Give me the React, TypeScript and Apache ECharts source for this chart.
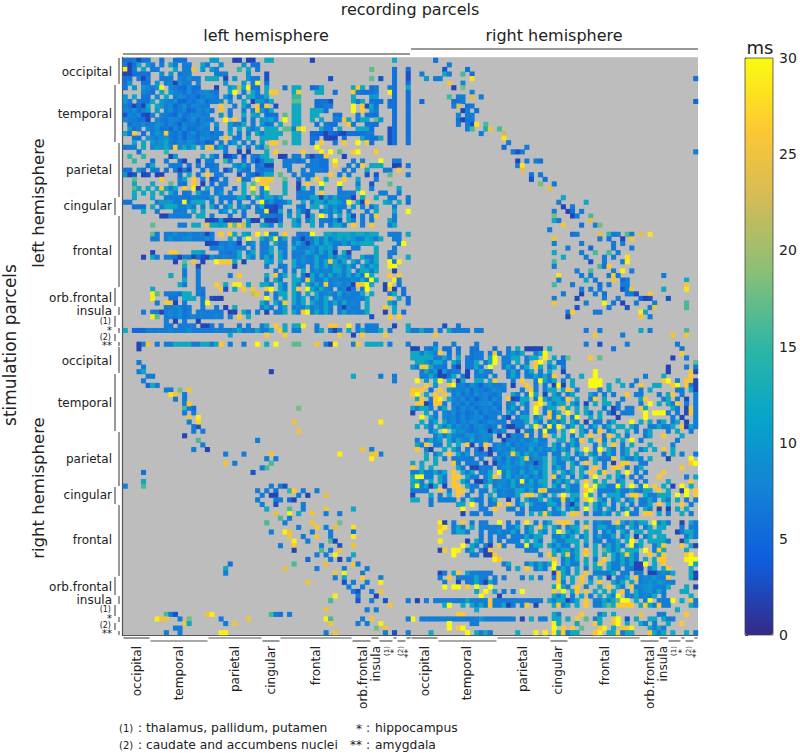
import React, { useEffect, useRef } from "react";
import * as echarts from "echarts";

// Each row: "<31 left-part cells> <32 right-part cells>". "." = no value, other chars = ms in base 31.
const leftLeftRows = [
"667266..6..666.....aa...22.22.. cc........2.................c...",
"726c.a7.7.c7.77..c7..9....a.66. ................................",
"t27.c.77...c.77p.a.a7....f.c.7. .......................h....6..6",
"226666..9.a.677.....777....9... 3...........................6..3",
"66.727..777.87977.ccc.2.a..a77. 3.............3........h.3..6..3",
"6a..66.a.782977.8.....a...a.7t. 6...........................6..6",
"6.a.a879u.8765966...2..acmcu66. c...6.cc..56c......cqc.67..76..c",
"....876.c.a8769678976..cu.7.c7. cqq...cq...cc..6...q76667..t6..6",
"a.c.66.8.c.7986757887.a6.7.cc77 c.....ff...........c...aa...6..6",
"a7.766c.a8795576896778.9..c.2aa 6c....hh...6663....c7c.666.66..6",
"76262c.ca7857968877..q..7.c7.q6 q.3...cc...6677....u.q3c6..66..6",
"87968a.a.79678568796.p.7..7.7qa 6c....cc..ccc6.....u.q.a7...6..6",
"3878328.87659678877..a.7..c.ca. 666.h.cc..cc...66...7.666...6..6",
"877662.8768875796877..t.q.7.7.a ac7.u.cc..c.c..77pc.7cc.ha..6..6",
".687977986875877689.a..a77c.7.a 67.c..cc...6.766..q7..666...6..6",
".a67.87967586966787.7..a.c.a7a ccc.hh7qt...c77.c...ccc6...36..6",
"c6q.6.7a8q768579678677.c.7.7.c7 cccc..cc..55526532666677...36..6",
"..66.a879a76858769877.p.77.c..c ccc...cc..66.222.6...c766c.36..6",
"..c.c.a89c7687986745.7.7a.7.7.a .qq.h.cc..6.q..6.q..u.q6...36..6",
"677.c.8a9c8q8c8c.9pp7c7..a.7.a7 h..........u....................",
"...6.....f............7..2.2... c.q.....q...t.u.h..qu...q.......",
".f..f.....2a.....c.a6.236.3.76c c..22.77.7266q...2..............",
"..f...6..7..62..3.77..f7..6.737 cc..77767.7766.u...7.7...u..77..",
".....6c...777.6.7.667...a7c7.67 22..77...77766.q..7.7q.ccc..22.7",
"66.a6.77.6.7273..6.77.37.a76.76 77...7..7.7776...7.7..c...77.q..",
"a23.23.22...6.c.6.q.77...3.7637 cc.h..7.777...q.7.7...3.3..h...7",
"..h.....q...7c.q.7.36.7..q67.tq qq..h..7.7.q.c...q..c...7.......",
"..c...c...h.76.q.2.6.77...c.h.q q...c..2.q..u...u...7..3...h....",
"..hc.c.cqc7c.q.t2.c.77..6.c.t.7 u...c..2c.7.c...7...c..7.....c..",
"..c.c.c.c.c7.67.c77.7a.7..c.h.7 c...c..7777.q...7777.u...77..7..",
"..c...c..7777667777a.7777cc6.c7 cc7c...777cc2c7c7772.c..c..77..7",
"66.....7aaa77u7ccc.7.7.7.7..7.u 6a667c..c.7cc7cca7u.c2q...ca.c.6",
"..666.c.7ccc77a7.7.c6.7c.7c7.7c 3326...76.cc.c7a77.a.7.6c...7...",
"....c..7...777.c.c...7a.a.7..77 t22c.7.c63..7a7c7.7...7.c...c..u",
"........2277777.cc.7...6..6...7 7766.a.c.2c.u.7.c.c3.7.7q...7...",
"..................223a2222.a22. 2226..c7.7c.776a3.c7.7.7...c7...",
"......h.....77.cc.pccacqhqma..c a7.c..ca..c.7.7cc7.q.7.q...7c...",
"............................... ................................",
"......h7.77977877727.q.qc.ca.t. t77.q..777u..ccacccaccacc..777.c",
"......77.79778977797...c.7.u..c 7ct7c.77277c7c7acaca77ca7c..77...",
"..................23377872.79.7 7.c77.7c727c7ca77a7caccc.....7u..",
"...................77978777.8.7 7c.77.c777a7cac7...77...c...7....",
"......2...qq...cca...7767c.7c.7 7c.c7.777ca7c7c2.c2.....c..77...",
"....2.c7.7762772632a77877c.c7.7 c7.c7.77977c77c7ca7..c77c..7...c",
"...........2.h.p.2..uqqqc.2.... ca.c..c7977c7cqc7c.c7.c7c..u7t..",
".............c..2.......2...... 7..77.c77.7c7c7ca7c7.c7ca..tu...",
".............7..7.............. ..7.7.7.c.79787cc7c.7cc7c...2...",
"..........c..7..7......7.q..... c.q7c.c.72c7c7c7a7c7c7uc...q.q..",
".............c..7.............. 7.c7..cc7qc77c7877797c7uc...t7..",
"............c7..7...q.c.tt.c..c c7.c7.c7.c7c7q789782qquc..2t.6..",
"......c.........77...q3.c.q.p.. qu.c7.cq.uc7c87.7827.7u...2q2.6.",
"......th.7776cc.76..........mp. 7.7cc.c7.c.c7897c7877c.c...7c.6.",
"......t...66.ccc.7.322......... u.7.c.c7c.7c7c.7977787c....q.c.6",
".......7.qq2.7...7u...........c 7.c7q.c7c.c87c7c7c787.c....c7..6",
".........778867..7..7.2.c.....7 c7.7c.787c797c7.72877.c...q.c...",
"....7.772787967.777777.22.c7.7. 2.77c.c7qu7c7c7.7c7877c...2.c.6.",
"......th.7879678777787.7.q.c... .......................3...q.q..",
".........7.2.7..2.............. ................................",
".........77.7777.227.7...7.7..7 c.q.c.cct..7..qq..t.7.777...2..c",
"c.55577777877797777787778c787c7 7c.qc.77...7c.727.c.7c777c.7...c",
".......................c....... q...q...........q..2.q....q.....",
"............................... ................................",
"...27p.7.77cccc77cc7cq.7..7..u. c.u...hh...p.72t...7q.cccc.7...7",
];

const rightRightRows = [
"22.76a.66.6..66...6..7.c.2222.c .............6..............6...",
"cc7ca7q.6.7..677.7p7.7a7c..7cu. ............................q...",
"ccccc77c7.c.7677.cu.77cc.7cc.t. c.6h....q.h...............2..7..",
".cca7cc7.c7.77c.7cu.77.c.7.qu.c .66............................h",
"a7qqc776.62.77c7.u..7c7.7c.qc.7 c.7......................2...7.7",
"..7c7a2a677.2.7c77...7c7.7c.7.c ..2......u...............2....q2",
"..77c7226c.72.777.7..7c7.77c7c7 q..7..c..u..........7...c.....q.",
".u.a.cu.c.2c..cc.cq...7.q..7uc7 c.7.c...uuu...c...7.....qu.7.qq2",
"...q.a..qu78697589778.2..q.7.7. 2u2.c...uuu.c..c.7.q..cc..qu.q72",
"qpq.6.q.a787968767987...7.q7.7c c.cq.7....7.c......7.c.....77.c2",
"qu.c.q.p.79686978768..c7.7tc.2. c7.7c...c7.7.7..q.77...7.cq.7..7",
".cq.7qt.c87968578697.q23cc.7tc7 cc7q.c..7q.c...7...cq...7c.7.2.7",
".qq26qq7.78696788967.7a.c7.qt.c 7cc.c7.2.c.cc.7....7.u.c.c7q.7.7",
"c7cc7.7c.86978678796.7c7.7.u.7c c.qc.c.c...7.27.77.qc.....c7.2q7",
"2..c.7.8796867968778.c7.77.u.7q 7c.t.c.c7.c.72.777..u.uuu7.7.2q7",
"..u.c7.878696789677.72.7cc.7c.q 7qc.7u..c.c...2.....u.....7.2..7",
"..c.7c.c7968798679877.777c.c7.7 c7c.c7.2.77.7c...u.c.c.7c.7c.2.7",
".c.c7.c7c7978689767.72277.ct.7u 7u.7c.c.7c.7c.cc.c7..77c77c.q2c7",
"....7c.t.c89767982979..2.77.7u7 7.c.u.c7.7q.7c..c.7.7c...7.c..7.",
".....7c7c8779a7899.2.2877q7.7q. c.c.7.c.q..7q.c.7...7c..q...c...",
".7.7c7a.c7c87c7897..2787978c77. .cc.c7q.c.q7.c.c.u.7.......7....",
".c7q.77.c.c.q2.7q.797a6878a978. c7.7c7...7.c.q.7.c...c....7.....",
".q.72..c.c7.7.72.27987c787c7a78 c7c7.c.u.7u.c7.7c..7c.c.q.c.....",
"...c.7c.q.c7a.7772.789qc7c8a77. 77.c.7c.c7.7c7.7c.c.....7.c.7..7",
"...c.c.7.77777.7..796a78cq798c. c7cc7.77.c777q.c77c7.c...2....u.",
"c.c..c...q7.777.2.287a79c7827c. c77.c7.q.c.7.2.qq..77.........qu",
"q.c.c.....c7.22777.79a8797a78c. 7c7.c.c7.q.7.qq.7.7c........q...",
"77c77c7c.q.c7c.77c.u7c87c79c7c. c.c7c.c.q.cq..c.u.7.7...q.......",
"cuu77.c7.qq.c77.7cq.7c798a797c. q7c.7.c7.u..c.c7.7.7...q.....7.c",
"cc7.c.c7.q.c7.227c7897c7u7c7cc. 7c7c.c.q.c.c..7c..7.7....c....q.",
"cu7c2c.2.qq.c77.c.7987c789a79c. c7.c77.u.ucc77uc.u.7u.q.c.2.u.c.",
"7777..q.7.qq.7.77.c7877cc7c7qq7 777c77.qu.7777c77c77cc.q.c..2u.q",
"2...c.7.c.q.7..7.c.7877c.qq.c7. c.u.cc.uc.7.ccc7.qq.c77ccc.u.u.q",
"cc..7.7777.7.c77.7c..2.7.c77c.c 77q7c7.qu.c7.7c.7c.77c7.c7.c.7.7",
"....7.....cc.u.7.77q.q.7c.c777c c7.72c.c.c7c.7.c.7.77c.q.c..q.7.",
"...........u...77.q..77.7.7777. 7c.7c7.u.c7.c7.7c.7.c7.2.2.c.c..",
"...........2.77.77.....77.c.cqc 77c.qp.7.77c7.c.u77.qq.c.7..c.7.",
"............................... ................................",
"......t2.7.q.7.77..u.7.7.t.7.7c .qqq.7.c.7977.qc7c7cc.u7c7..2.c7",
"......qt.7c7.c.77777.77c.7c.qc. c7.7cc.q.7cc77c7.c7.7c.cc...7.77",
"......t..7cc7..7.77977c7.7c.c7. cu.c7c.c.7.7c7.c7.cc.ccc...27cc7",
"...............7.7.77.777c7cc.. 77c7c.7c.7c77c.7c.2.7c.cc....7c7",
"......t.....2.c7.7.7.777.c.c7.. c77ccc.c.77.77c.cu.c.cccc7..2c..",
"...........u.c7.72.q7..77u7cc.c 7c77.c.7.c.7c7c7.u7c..7cq...q.c2",
"......2q.ut.7c.72q.......777... c7cc7c.q.c.hc7c.ccc.u.7qc....c..",
".........u...77.22q.........7.q c.cq7c.q.c.c.c7cqc7..q.cq....qt.",
"..................tq........... q.7c7c.c.7.q.c7c7c7.c.cqq....tuu",
"....................7c...7c7c7c u.7c77.c.cq.c77c7c22u.c.q.....uc",
".....................7.c.q.7c7. u7c7.c.7.cc.c77.7722.7c.cq....c.",
"......27.cq.c77777............. 2qc7.c.p.7777c.77.77.22797c...c2",
"......7.q.7777c77.7.7...7.c.7.. 7qc.c.q.7.c.2.77c.q798a87q....c2",
".......7..2.77c72c7............ .q7.c.p.c.q..c7c.c.7898a977.....",
".......u.uu.q.u..u............. cuc7.q.7..c.q.c7.q789a877c...c.2",
"..............c.u.c.7.7.u...... q.u.cq.p.c.c.c.q7.c79a7c7...cc..",
"...............u...2........... c7c.7.c.7.c.c7u.77c787c.7.....c.",
".2.7.7777777c7777q77777777777.c 7cc27c.q.77c7chuu.c.7u.777u.c.q7",
".......cu..c.c7c7q77c27.7q.2... cq7c.c.q.77chcqqqq.cqc7q77....c7",
"..............c................ ...........................c.....",
"..........qq................... c7....q...7c.c.....p...77....q...",
"u.7777777777777a7777777.2.c.77. cc.c.q.h.7c..qu.3.c..cc.c77.....",
"........u....77................ tc...c...qc..pu.c..c7.7..c..q...q",
"........u.qu................... u.q.q.h...qt.c.pqt...c7c7........",
"....c.......u.c7c7.....c...t.t. tcq7cc...qt.ccq7cc...qc7c.c..c.7",
];

// [row, column, ms] inside the left-stimulation / right-recording block
const leftRightCells = [
[0,5,6],[1,8,7],[2,7,3],[2,12,6],[3,2,7],[3,7,12],[3,8,7],[3,11,16],[3,13,6],[4,3,10],[4,5,7],[4,6,7],[4,13,28],[5,8,25],[5,11,8],[6,9,2],[6,11,18],[7,13,7],[8,8,16],[9,2,5],
[8,10,7],[8,11,7],[8,13,24],[8,15,7],[9,9,6],[9,10,6],[9,11,7],[10,10,24],[10,13,7],[10,12,6],[11,11,2],[11,12,7],[11,14,6],[12,12,7],[12,13,7],[13,10,6],[13,11,2],[13,13,7],
[10,9,7],[12,10,8],[13,12,6],[14,10,7],[14,13,3],[15,12,7],[15,13,16],[14,12,7],[14,14,28],[14,16,16],[15,16,13],[15,17,25],[15,19,16],[16,15,7],[16,20,22],[17,20,28],[18,21,7],[19,20,5],[19,25,7],[20,22,7],[20,23,3],[20,24,7],[22,23,2],[22,27,7],
[22,28,6],[22,25,7],[23,23,7],[23,24,28],[24,24,24],[25,26,6],[25,28,7],[26,26,3],[26,29,6],[27,28,18],[28,30,24],[27,31,7],[4,62,6],[9,62,5],[20,62,7],
[31,32,7],[30,33,12],[32,33,2],[32,35,7],[31,38,12],[33,31,7],[33,34,2],[33,35,6],[33,37,7],[34,31,18],[34,35,2],[34,36,7],[34,39,16],[35,31,12],[35,32,7],[35,39,24],[36,33,25],
[36,40,7],[36,37,6],[36,41,18],[37,30,7],[38,35,6],[38,36,7],[38,41,24],[38,43,15],[38,44,7],[38,45,7],[38,47,16],[38,48,7],[38,50,24],[38,52,28],[39,31,25],[39,41,7],[39,43,6],
[39,46,2],[39,48,26],[40,31,7],[40,37,7],[40,44,7],[41,39,5],[41,44,7],[41,48,7],[42,31,12],[42,37,7],[42,43,16],[42,45,7],[43,38,7],[43,42,7],[43,44,7],[43,47,28],[44,31,16],
[44,39,3],[44,46,7],[44,47,29],[45,31,7],[45,41,16],[45,42,6],[45,43,26],[46,44,7],[46,39,16],[46,46,29],[47,32,28],[47,39,7],[47,43,7],[47,44,26],[47,45,7],[47,55,7],[48,32,7],
[48,40,7],[48,44,25],[48,46,5],[48,47,7],[48,60,12],[49,31,16],[49,35,7],[49,41,6],[49,46,7],[49,47,7],[49,60,25],[50,41,7],[50,46,3],[50,47,7],[50,48,25],[50,55,12],[50,60,28],
[51,33,7],[51,37,2],[51,42,6],[51,47,7],[51,48,7],[51,49,3],[51,52,26],[52,31,7],[52,36,2],[52,42,7],[52,50,5],[52,51,2],[52,52,3],[52,56,3],[53,31,25],[53,38,7],[53,42,29],[53,49,7],
[53,53,7],[53,60,16],[54,36,3],[54,43,7],[54,52,7],[54,53,25],[54,60,16],[55,34,7],[55,35,26],[55,40,7],[55,41,7],[55,50,29],[55,51,12],[56,34,2],[56,50,25],[56,52,7],
[46,36,7],[47,37,7],[48,38,12],[49,43,7],[50,37,7],[50,39,7],[51,40,7],[52,45,7],[53,46,2],[54,47,3],[53,44,6],[46,48,7],[44,42,7],[42,40,16],[40,46,7],[41,34,7],[43,33,12],
[58,7,3],[58,10,7],[59,0,7],[59,1,7],[59,2,12],[59,3,7],[59,4,7],[59,6,7],[59,8,12],[59,9,7],[59,10,7],[59,11,7],[59,12,7],[59,14,7],[59,15,7],[59,38,7],[59,41,7],[59,50,12],[59,52,7],
[59,60,16],[60,5,25],[60,40,25],[60,46,7],[60,57,25],[60,60,25],[62,5,7],[62,9,7],[62,14,7],[62,38,7],[62,41,3],[62,47,7],[62,58,7],
];

// [row, column, ms] inside the right-stimulation / left-recording block
const rightLeftCells = [
[0,3,2],[3,3,7],[4,4,7],[5,3,7],[5,4,12],[5,32,2],[6,5,7],[6,6,7],[7,4,7],[8,5,5],[8,7,7],[9,9,7],[9,10,7],[8,6,12],[10,11,25],[10,10,28],[9,12,18],[9,14,25],[10,13,7],[11,11,7],[11,13,7],[12,13,7],
[13,13,16],[13,14,7],[12,14,26],[13,15,5],[14,13,7],[14,15,7],[15,14,25],[15,16,29],[16,14,7],[17,16,3],[16,16,27],[17,15,7],[18,15,7],[19,13,2],[18,17,7],[20,16,16],[21,17,7],[22,15,7],[22,18,2],
[6,50,12],[6,56,7],[16,56,29],[7,59,7],[6,59,7],[13,38,18],[16,37,25],[18,38,25],[20,29,7],[23,26,7],[23,22,7],[23,32,25],[24,31,7],[24,33,7],[25,32,16],[25,22,25],[25,24,7],[26,31,16],
[26,30,7],[27,28,3],[22,54,7],[23,54,25],[23,56,7],[22,52,25],[23,55,25],[24,54,29],[23,47,29],[27,4,6],[29,4,12],[31,31,7],[30,4,16],[30,0,7],[30,32,7],[30,34,7],[31,33,6],[31,29,7],[32,30,7],
[32,32,2],[32,33,2],[30,35,3],[33,36,6],[33,29,7],[32,38,7],[31,36,15],[31,37,26],[31,39,7],[32,40,2],[31,42,7],[32,44,24],[33,37,2],[33,33,7],[33,34,7],[34,30,7],[34,33,3],[34,39,7],[35,31,12],
[35,36,16],[35,39,7],[35,44,25],[35,50,12],[36,33,24],[36,36,29],[36,38,12],[36,41,25],[36,44,7],[36,47,7],[37,34,16],[37,36,7],[38,31,16],[38,35,7],[38,41,25],[38,47,18],[39,38,7],[39,42,26],[39,44,7],[39,46,24],
[39,50,28],[40,32,7],[40,35,29],[40,36,25],[40,41,7],[40,45,7],[40,50,6],[41,36,25],[41,39,7],[41,42,25],[41,45,7],[41,50,29],[42,37,29],[42,40,7],[42,45,16],[42,46,2],[43,34,7],[43,37,26],[43,43,7],[43,47,3],
[43,50,25],[44,37,2],[44,43,16],[44,45,7],[44,47,25],[45,44,7],[45,42,7],[45,46,29],[45,50,12],[46,40,5],[46,45,7],[46,47,2],[46,49,7],[47,23,6],[47,37,16],[47,44,24],[47,50,25],[47,51,7],[48,22,12],[48,35,24],[48,42,7],
[48,48,7],[48,53,7],[49,22,7],[49,46,25],[49,48,29],[49,52,7],[50,46,7],[50,48,12],[50,52,26],[50,56,7],[51,40,25],[51,48,3],[51,50,7],[51,53,7],[51,56,29],[52,49,7],[52,52,7],[53,50,7],[53,54,7],[53,51,3],
[53,56,25],[54,51,7],[54,55,2],[54,46,29],[55,51,3],[55,45,16],[55,54,7],[55,57,3],[55,62,7],[56,58,25],[57,53,7],[57,55,7],[57,44,25],[58,9,16],[58,10,7],[58,11,3],[58,18,25],[58,19,29],[58,32,16],[58,33,7],[58,34,6],[58,36,7],
[59,7,29],[59,8,25],[59,9,25],[59,12,7],[59,14,18],[59,21,7],[59,27,25],[59,44,29],[59,45,16],[59,52,7],[59,54,25],[60,56,29],[59,62,7],[60,13,25],[60,14,12],[60,22,7],[60,24,25],[60,45,25],[60,53,7],[60,51,7],
[61,11,7],[61,12,7],[61,55,18],[61,57,25],[62,9,7],[62,12,7],[62,21,29],[62,22,29],[62,44,7],[62,46,25],[62,57,7],[62,59,3],[62,62,7],
];

const regionNames = ["occipital", "temporal", "parietal", "cingular", "frontal", "orb.frontal", "insula", "(1)", "*", "(2)", "**"];
const colorStops = ["#352A87", "#0F5CDD", "#1481D6", "#06A4CA", "#2EB7A4", "#87BF77", "#D1BB59", "#FEC832", "#F9FB0E"];
const colorTicks = [0, 30];
const PARCELS = 126;
const HALF = 63;
const parcelIndex = Array.from({ length: PARCELS }, (_, i) => String(i));

function buildCells() {
  const cells: number[][] = [];
  const addRows = (rows: string[], offset: number) => {
    rows.forEach((line, r) => {
      const [a, b] = line.split(" ");
      const first = a.padEnd(31, ".").slice(0, 31);
      const second = (b || "").padEnd(32, ".").slice(0, 32);
      const full = first + second;
      for (let c = 0; c < HALF; c++) {
        if (full[c] !== ".") cells.push([offset + c, offset + r, parseInt(full[c], 31)]);
      }
    });
  };
  addRows(leftLeftRows, 0);
  addRows(rightRightRows, HALF);
  leftRightCells.forEach(([r, c, v]) => cells.push([HALF + c, r, v]));
  rightLeftCells.forEach(([r, c, v]) => cells.push([c, HALF + r, v]));
  return cells;
}

const FONT = "'DejaVu Sans'";
const txt = (x: number, y: number, text: string, fontSize: number, align = "center", rotation = 0, vAlign = "middle") => ({
  type: "text", x, y, rotation, silent: true,
  style: { text, fontSize, fontFamily: FONT, fill: "#222", align, verticalAlign: vAlign },
});
const seg = (x1: number, y1: number, x2: number, y2: number, stroke = "#555", lineWidth = 1.2) => ({
  type: "line", silent: true, shape: { x1, y1, x2, y2 }, style: { stroke, lineWidth },
});

function buildGraphics() {
  const out: any[] = [];
  out.push(txt(410, 9, "recording parcels", 16));
  out.push(txt(266, 35, "left hemisphere", 16));
  out.push(txt(554, 35, "right hemisphere", 16));
  out.push(seg(123, 54, 410, 54, "#333", 1));
  out.push(seg(411, 49, 698, 49, "#333", 1));
  out.push(txt(10, 345, "stimulation parcels", 17, "center", Math.PI / 2));
  out.push(txt(38, 203, "left hemisphere", 16.5, "center", Math.PI / 2));
  out.push(txt(38, 488, "right hemisphere", 16.5, "center", Math.PI / 2));

  // frame
  out.push(seg(122.5, 57, 122.5, 636, "#555", 1.2));
  out.push(seg(122, 635.5, 698, 635.5, "#555", 1.2));
  out.push(seg(123, 57.5, 698, 57.5, "#ccc", 1));

  // left labels and brackets
  const yEdges = [58, 85, 143, 198, 216, 288, 307, 316, 328, 334, 342, 347];
  const yCenters = [72, 114, 170, 206, 251, 298, 311, 321, 330, 337, 345];
  const ySizes = [12, 12, 12, 12, 12, 12, 12, 8, 10, 8, 10];
  const xText = [112, 112, 112, 112, 112, 112, 112, 111, 112, 111, 112];
  for (let hemi = 0; hemi < 2; hemi++) {
    const dy = hemi * 289;
    regionNames.forEach((name, i) => {
      const bx = i % 2 === 0 ? 119 : 115;
      out.push(seg(bx, yEdges[i] + dy, bx, yEdges[i + 1] - 1 + dy, "#555", 1.2));
      out.push(txt(xText[i], yCenters[i] + dy - (hemi && i > 6 ? 1 : 0), name, ySizes[i], "right"));
    });
  }

  // bottom labels and brackets
  const xEdges = [123, 150, 208, 262, 280, 352, 371, 379, 393, 397, 406, 411, 438, 497, 550, 568, 640, 659, 668, 681, 685, 694, 698];
  const xCenters = [137, 179, 235, 271, 316, 363, 376, 387, 394, 401, 408, 425, 467, 523, 558, 605, 650, 663, 674, 682, 689, 696];
  for (let i = 0; i < 22; i++) {
    const name = regionNames[i % 11];
    const base = i % 2 === 0 ? 638 : 641;
    const by = i >= 11 ? (i % 2 === 0 ? 641 : 638) : base;
    out.push(seg(xEdges[i] + 0.5, by, xEdges[i + 1] - 0.5, by, "#555", 1.2));
    const c = i % 11;
    const top = c === 8 || c === 10 ? 649 : 646;
    out.push(txt(xCenters[i], top, name, c > 6 ? (c % 2 === 0 ? 9 : 7) : ySizes[c], "right", Math.PI / 2));
  }

  // key
  out.push(txt(119, 728, "(1)", 10, "left"));
  out.push(txt(138, 728, ":", 12.3, "left"));
  out.push(txt(146, 728, "thalamus, pallidum, putamen", 12.3, "left"));
  out.push(txt(119, 745, "(2)", 10, "left"));
  out.push(txt(138, 745, ":", 12.3, "left"));
  out.push(txt(146, 745, "caudate and accumbens nuclei", 12.3, "left"));
  out.push(txt(362, 729, "*", 12, "right"));
  out.push(txt(366, 728, ":", 12.3, "left"));
  out.push(txt(375, 728, "hippocampus", 12.3, "left"));
  out.push(txt(362, 745, "**", 12, "right"));
  out.push(txt(366, 745, ":", 12.3, "left"));
  out.push(txt(375, 745, "amygdala", 12.3, "left"));

  // colour bar
  out.push(txt(760, 47, "ms", 18));
  out.push({ type: "rect", silent: true, shape: { x: 745, y: 58, width: 28, height: 577 }, style: { fill: "none", stroke: "#444", lineWidth: 0.8 }, z: 100 });
  return out;
}

export default function App() {
  const ref = useRef<HTMLDivElement>(null);
  useEffect(() => {
    const chart = echarts.init(ref.current!, undefined, { renderer: "svg", width: 800, height: 753 });
    chart.setOption({
      animation: false,
      backgroundColor: "#ffffff",
      grid: [
        { left: 123, top: 58, width: 575, height: 577, show: true, backgroundColor: "#bdbdbd", borderWidth: 0 },
        { left: 745, top: 58, width: 28, height: 577, show: false },
      ],
      xAxis: [
        { type: "category", data: parcelIndex, gridIndex: 0, show: false },
        { type: "value", gridIndex: 1, show: false, min: 0, max: 1 },
      ],
      yAxis: [
        { type: "category", data: parcelIndex, gridIndex: 0, inverse: true, show: false },
        {
          type: "value", gridIndex: 1, position: "right", min: colorTicks[0], max: colorTicks[1], interval: 5,
          axisLine: { show: false },
          axisTick: { show: true, inside: false, length: 3, lineStyle: { color: "#444" } },
          axisLabel: { fontSize: 14, fontFamily: FONT, color: "#222", margin: 6 },
          splitLine: { show: false },
        },
      ],
      visualMap: {
        type: "continuous", min: 0, max: 30, seriesIndex: 0, dimension: 2,
        left: 745, top: 58, itemWidth: 28, itemHeight: 577, padding: 0,
        calculable: false, realtime: false, hoverLink: false, text: ["", ""], showLabel: false,
        inRange: { color: colorStops },
      },
      series: [
        {
          type: "heatmap", xAxisIndex: 0, yAxisIndex: 0, data: buildCells(), progressive: 0, silent: true,
          emphasis: { disabled: true }, itemStyle: { borderWidth: 0 },
        },
      ],
      graphic: { elements: buildGraphics() },
    });
    return () => chart.dispose();
  }, []);
  return <div ref={ref} style={{ position: "absolute", left: 0, top: 0, width: 800, height: 753 }} />;
}
